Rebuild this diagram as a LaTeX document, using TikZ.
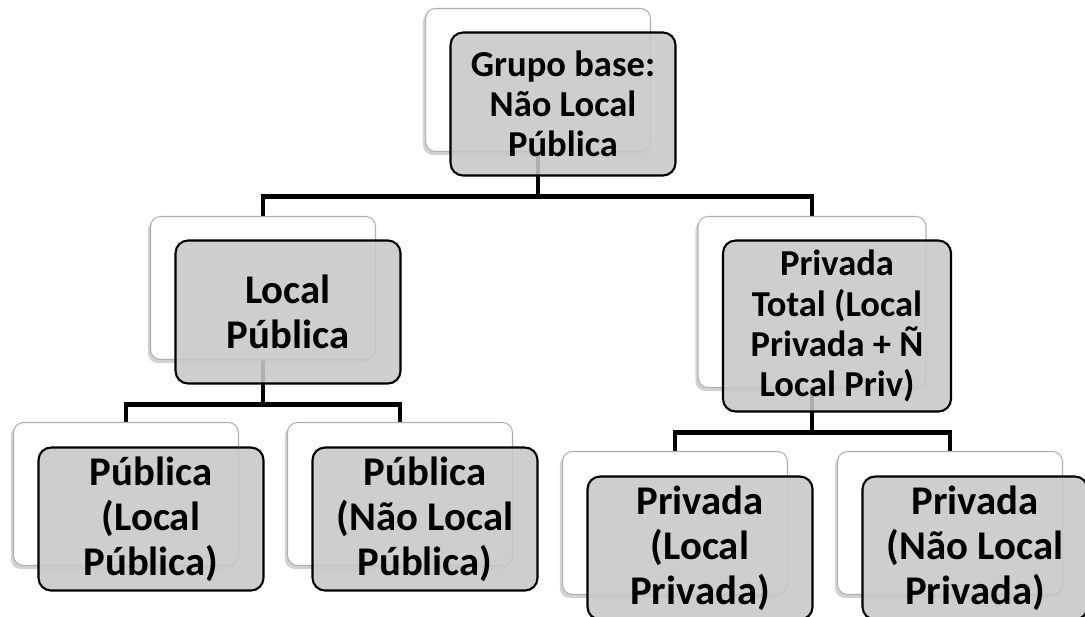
\documentclass[tikz,border=0pt]{standalone}
\usepackage{fontspec}
\setmainfont{Carlito}
\usetikzlibrary{shadows,backgrounds}
\definecolor{boxgray}{RGB}{200,200,200}
\definecolor{edgegray}{RGB}{175,175,175}
\newcommand{\boxfont}{\bfseries\fontsize{23.2}{25.6}\selectfont}
\newcommand{\boxfontsmall}{\bfseries\fontsize{20.8}{22.8}\selectfont}
\tikzset{
backbox/.style={draw=edgegray, line width=0.6pt, fill=white, rounded corners=0.2cm,
  minimum width=4.5cm, minimum height=2.86cm, inner sep=0pt, outer sep=0pt,
  drop shadow={shadow xshift=-1.5pt, shadow yshift=-2pt, opacity=0.35}},
frontbox/.style={draw=black, line width=1.2pt, fill=boxgray, fill opacity=0.88, text opacity=1,
  rounded corners=0.25cm, minimum width=4.5cm, minimum height=2.86cm, inner sep=0pt,
  outer sep=0pt, align=center, font=\boxfont},
tallbox/.style={minimum width=4.56cm, minimum height=3.42cm},
smalltext/.style={font=\boxfontsmall},
conn/.style={line width=2.6pt}
}
\begin{document}
\begin{tikzpicture}[x=0.02cm,y=-0.02cm]
\useasboundingbox (0,0) rectangle (1085,616);
\node[backbox] (GrupoBaseBack) at (538,80) {};
\node[frontbox, smalltext] (GrupoBase) at (563,104) {Grupo base:\\Não Local\\Pública};
\node[backbox] (LocalPublicaBack) at (263,288) {};
\node[frontbox] (LocalPublica) at (288,312) {Local\\Pública};
\node[backbox, tallbox] (PrivadaTotalBack) at (812,302) {};
\node[frontbox, tallbox, smalltext] (PrivadaTotal) at (837,326) {Privada\\Total (Local\\Privada + Ñ\\Local Priv)};
\node[backbox] (PublicaLocalBack) at (126,494) {};
\node[frontbox] (PublicaLocal) at (151,519) {Pública\\(Local\\Pública)};
\node[backbox] (PublicaNaoLocalBack) at (400,494) {};
\node[frontbox] (PublicaNaoLocal) at (425,519) {Pública\\(Não Local\\Pública)};
\node[backbox] (PrivadaLocalBack) at (675,523) {};
\node[frontbox] (PrivadaLocal) at (700,548) {Privada\\(Local\\Privada)};
\node[backbox] (PrivadaNaoLocalBack) at (950,523) {};
\node[frontbox] (PrivadaNaoLocal) at (975,548) {Privada\\(Não Local\\Privada)};
\begin{scope}[on background layer]
\fill[white] (0,0) rectangle (1085,616);
\draw[conn] (GrupoBaseBack.south) -- ++(0,45) -| (LocalPublicaBack.north);
\draw[conn] (GrupoBaseBack.south) -- ++(0,45) -| (PrivadaTotalBack.north);
\draw[conn] (LocalPublicaBack.south) -- ++(0,45) -| (PublicaLocalBack.north);
\draw[conn] (LocalPublicaBack.south) -- ++(0,45) -| (PublicaNaoLocalBack.north);
\draw[conn] (PrivadaTotalBack.south) -- ++(0,45) -| (PrivadaLocalBack.north);
\draw[conn] (PrivadaTotalBack.south) -- ++(0,45) -| (PrivadaNaoLocalBack.north);
\end{scope}
\end{tikzpicture}
\end{document}
